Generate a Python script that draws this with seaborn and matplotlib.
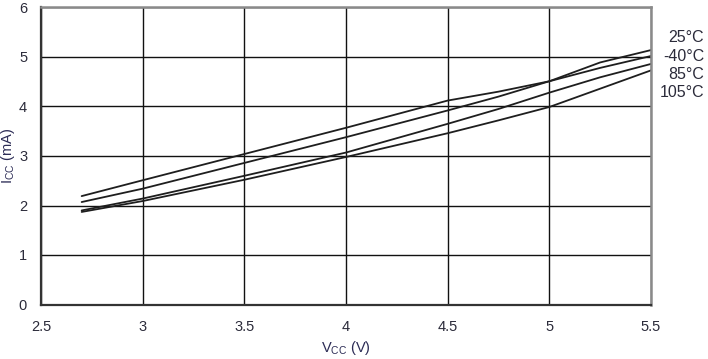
import matplotlib
matplotlib.use("Agg")
import matplotlib.pyplot as plt
import seaborn as sns
import pandas as pd

# Data
vcc = [2.7, 3.0, 3.5, 4.0, 4.5, 4.75, 5.0, 5.25, 5.5]
icc_25 = [2.07, 2.34, 2.86, 3.38, 3.92, 4.20, 4.51, 4.89, 5.14]
icc_m40 = [2.19, 2.51, 3.04, 3.57, 4.12, 4.30, 4.51, 4.78, 5.02]
icc_85 = [1.90, 2.14, 2.60, 3.07, 3.65, 3.95, 4.28, 4.59, 4.86]
icc_105 = [1.87, 2.09, 2.52, 2.98, 3.46, 3.72, 3.99, 4.36, 4.73]
series_labels = ["25°C", "-40°C", "85°C", "105°C"]
label_y = [5.39, 5.02, 4.65, 4.29]
x_ticks = [2.5, 3, 3.5, 4, 4.5, 5, 5.5]
x_ticklabels = ["2.5", "3", "3.5", "4", "4.5", "5", "5.5"]
y_ticks = [0, 1, 2, 3, 4, 5, 6]

sns.set_style("white")
plt.rcParams["font.family"] = ["Liberation Sans", "DejaVu Sans"]
plt.rcParams["mathtext.fontset"] = "custom"
plt.rcParams["mathtext.rm"] = "Liberation Sans"
plt.rcParams["mathtext.it"] = "Liberation Sans"

frames = []
for lab, vals in zip(series_labels, [icc_25, icc_m40, icc_85, icc_105]):
    frames.append(pd.DataFrame({"Vcc": vcc, "Icc": vals, "T": lab}))
df = pd.concat(frames, ignore_index=True)

fig = plt.figure(figsize=(7.08, 3.59), dpi=100)
ax = fig.add_axes([41 / 708, 1 - 304.5 / 359, 610 / 708, 297 / 359])

sns.lineplot(data=df, x="Vcc", y="Icc", units="T", estimator=None,
             color="#1e1e1e", linewidth=1.3, ax=ax, legend=False)

ax.set_xlim(2.5, 5.5)
ax.set_ylim(0, 6)
ax.set_xticks(x_ticks)
ax.set_xticklabels(x_ticklabels)
ax.set_yticks(y_ticks)
ax.grid(True, color="#111111", linewidth=1.0)
ax.set_axisbelow(True)

tick_color = "#2b2b3a"
ax.tick_params(axis="both", length=0, labelsize=10.5, colors=tick_color)
ax.tick_params(axis="x", pad=11)
ax.tick_params(axis="y", pad=10)

for side in ["left", "bottom"]:
    ax.spines[side].set_color("#333333")
    ax.spines[side].set_linewidth(1.6)
for side in ["top", "right"]:
    ax.spines[side].set_color("#8a8a8a")
    ax.spines[side].set_linewidth(1.8)

ax.set_xlabel("V$_{\\mathrm{CC}}$ (V)", fontsize=10.5, color="#2b2b55", labelpad=4)
ax.set_ylabel("I$_{\\mathrm{CC}}$ (mA)", fontsize=10.5, color="#2b2b55", labelpad=1)

for lab, yv in zip(series_labels, label_y):
    ax.text(1.087, yv, lab, transform=ax.get_yaxis_transform(), ha="right",
            va="center", fontsize=11.5, color="#2b2b3a", clip_on=False)

fig.savefig("out.png", dpi=100)
